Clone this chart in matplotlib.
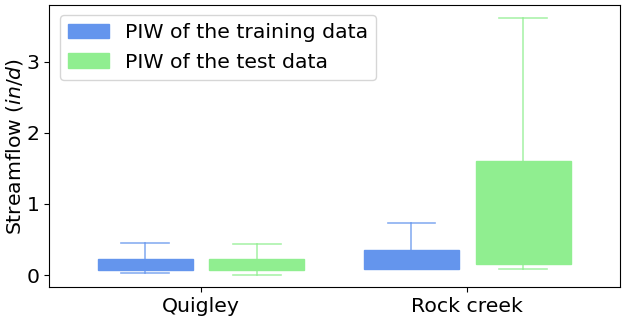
import matplotlib.pyplot as plt
from matplotlib.patches import Patch

sites = ['Quigley', 'Rock creek']
# whisker low, box low, box high, whisker high
train_lo   = [0.03, 0.09]
train_q1   = [0.07, 0.09]
train_q3   = [0.22, 0.35]
train_hi   = [0.45, 0.73]
test_lo    = [0.00, 0.09]
test_q1    = [0.07, 0.155]
test_q3    = [0.22, 1.60]
test_hi    = [0.44, 3.62]
labels = ['PIW of the training data', 'PIW of the test data']
colors = ['#6495ED', '#90EE90']

def stats(lo, q1, q3, hi):
    out = []
    for a, b, c, d in zip(lo, q1, q3, hi):
        out.append({'whislo': a, 'q1': b, 'med': b, 'q3': c, 'whishi': d, 'fliers': []})
    return out

fig, ax = plt.subplots(figsize=(6.24, 3.19), dpi=100)
groups = [stats(train_lo, train_q1, train_q3, train_hi), stats(test_lo, test_q1, test_q3, test_hi)]
offs = [-0.21, 0.21]
for g, off, col in zip(groups, offs, colors):
    pos = [i + 1 + off for i in range(len(sites))]
    ax.bxp(g, positions=pos, widths=0.357, patch_artist=True, showfliers=False,
           boxprops=dict(facecolor=col, edgecolor=col, alpha=1.0, linewidth=1),
           whiskerprops=dict(color=col, alpha=0.75, linewidth=1.2),
           capprops=dict(color=col, alpha=0.75, linewidth=1.2),
           medianprops=dict(color=col, linewidth=0))

ax.set_xticks([1, 2])
ax.set_xticklabels(sites)
ax.set_xlim(0.43, 2.575)
ax.set_ylim(-0.17, 3.80)
ax.set_yticks([0, 1, 2, 3])
ax.tick_params(labelsize=14.7)
ax.set_ylabel('Streamflow ($\\it{in/d}$)', fontsize=14.7, labelpad=1)
handles = [Patch(facecolor=c, edgecolor=c) for c in colors]
ax.legend(handles, labels, loc='upper left', fontsize=14.7)
plt.subplots_adjust(left=0.079, right=0.994, top=0.984, bottom=0.1)
plt.savefig('out.png')
